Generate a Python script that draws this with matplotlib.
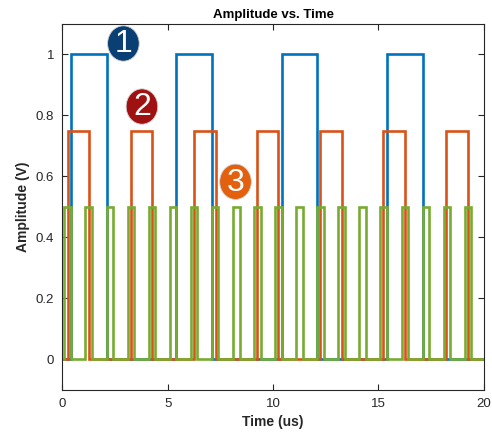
import matplotlib
matplotlib.use("Agg")
import matplotlib.pyplot as plt
from matplotlib.patches import Ellipse
import numpy as np

plt.rcParams['font.family'] = ['Liberation Sans', 'DejaVu Sans']

# pulse edges (us)
blue_rise = [0.41, 5.41, 10.42, 15.42]
blue_fall = [2.11, 7.1, 12.11, 17.12]
blue_amp = 1.0

orange_rise = [0.25, 3.25, 6.25, 9.25, 12.24, 15.24, 18.23]
orange_fall = [1.28, 4.27, 7.28, 10.26, 13.27, 16.26, 19.27]
orange_amp = 0.75

green_rise = [0.1, 1.1, 2.1, 3.1, 4.1, 5.1, 6.1, 7.1, 8.1, 9.1,
              10.1, 11.1, 12.1, 13.1, 14.1, 15.1, 16.1, 17.1, 18.1, 19.1]
green_fall = [0.41, 1.41, 2.41, 3.41, 4.41, 5.41, 6.41, 7.41, 8.41, 9.41,
              10.41, 11.41, 12.41, 13.41, 14.41, 15.41, 16.41, 17.41, 18.41, 19.41]
green_amp = 0.5

t_end = 20.0

# badge labels: (text, x, y, colour)
badges = [('1', 2.9, 1.036, '#0a3f73'),
          ('2', 3.78, 0.829, '#a01212'),
          ('3', 8.22, 0.582, '#e2600e')]


def pulse_path(rise, fall, amp):
    xs, ys = [0.0], [0.0]
    for r, f in zip(rise, fall):
        xs += [r, r, f, f]
        ys += [0, amp, amp, 0]
    xs.append(t_end)
    ys.append(0)
    return np.array(xs), np.array(ys)


fig = plt.figure(figsize=(4.92, 4.34), dpi=100)
ax = fig.add_axes([0.1266, 0.1025, 0.8566, 0.8422])

for rise, fall, amp, col in [(blue_rise, blue_fall, blue_amp, '#0072BD'),
                             (orange_rise, orange_fall, orange_amp, '#D95319'),
                             (green_rise, green_fall, green_amp, '#77AC30')]:
    x, y = pulse_path(rise, fall, amp)
    ax.plot(x, y, color=col, linewidth=1.9, solid_joinstyle='miter')

for txt, bx, by, col in badges:
    ax.add_patch(Ellipse((bx, by), 1.5, 0.116, facecolor=col,
                         edgecolor='#d0d0d0', linewidth=0.6, zorder=5, clip_on=False))
    ax.text(bx, by - 0.003, txt, color='white', fontsize=23, ha='center',
            va='center', zorder=6)

ax.set_xlim(0, 20)
ax.set_ylim(-0.1, 1.1)
ax.set_xticks([0, 5, 10, 15, 20])
ax.set_yticks([0, 0.2, 0.4, 0.6, 0.8, 1])
ax.set_yticklabels(['0', '0.2', '0.4', '0.6', '0.8', '1'])
ax.tick_params(direction='in', length=4, width=0.8, top=True, right=True,
               labelsize=9.5, colors='#262626', pad=6)
for s in ax.spines.values():
    s.set_color('#262626')
    s.set_linewidth(0.8)

ax.set_title('Amplitude vs. Time', fontsize=9.5, fontweight='bold', pad=4)
ax.set_xlabel('Time (us)', fontsize=10, fontweight='bold', color='#262626')
ax.set_ylabel('Amplitude (V)', fontsize=10, fontweight='bold', color='#262626')

fig.savefig('out.png', dpi=100)
